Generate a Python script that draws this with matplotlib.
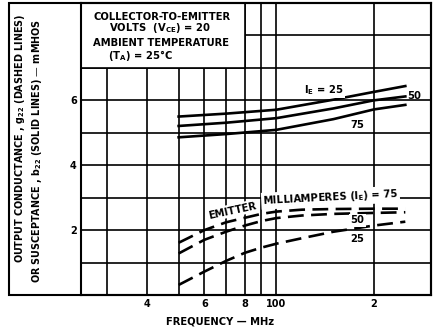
import numpy as np
import matplotlib
matplotlib.use("Agg")
import matplotlib.pyplot as plt
from matplotlib.patches import Rectangle

plt.rcParams['font.family'] = ['DejaVu Sans']
plt.rcParams['font.weight'] = 'bold'
plt.rcParams['mathtext.default'] = 'regular'

# frequency points (MHz)
freq_b = [50, 70, 100, 150, 200, 250]
freq_g = [50, 60, 70, 80, 90, 100, 120, 150, 200, 250]

# susceptance b22 (solid lines), mmhos
b22_ie25 = [5.50, 5.59, 5.71, 6.02, 6.26, 6.44]
b22_ie50 = [5.21, 5.31, 5.45, 5.75, 6.00, 6.12]
b22_ie75 = [4.86, 4.96, 5.09, 5.42, 5.72, 5.86]

# conductance g22 (dashed lines), mmhos
g22_ie75 = [1.61, 2.00, 2.24, 2.38, 2.50, 2.57, 2.63, 2.65, 2.66, 2.66]
g22_ie50 = [1.28, 1.70, 1.95, 2.14, 2.28, 2.37, 2.45, 2.50, 2.53, 2.55]
g22_ie25 = [0.31, 0.72, 1.05, 1.30, 1.46, 1.58, 1.75, 1.95, 2.14, 2.26]

xgrid = [30, 40, 50, 60, 70, 80, 90, 100, 200]
xlabels = ['', '4', '', '6', '', '8', '', '100', '2']
ygrid = [1, 2, 3, 4, 5, 6, 7, 8]
ylabels = ['', '2', '', '4', '', '6', '', '']

W, H = 434, 333
fig = plt.figure(figsize=(W / 100, H / 100), dpi=100)
ax = fig.add_axes([81 / W, 38 / H, 350 / W, 292 / H])

ax.set_xscale('log')
ax.set_xlim(25, 300)
ax.set_ylim(0, 9)
ax.set_xticks(xgrid)
ax.set_xticklabels(xlabels)
ax.xaxis.set_minor_locator(matplotlib.ticker.NullLocator())
ax.set_yticks(ygrid)
ax.set_yticklabels(ylabels)
ax.tick_params(length=0, labelsize=7, pad=3)
ax.grid(True, color='black', lw=1.2)
ax.set_axisbelow(True)
for s in ax.spines.values():
    s.set_linewidth(1.5)

# conditions box in upper-left corner
ax.add_patch(Rectangle((25, 7), 55, 2, facecolor='white', edgecolor='black',
                       lw=1.2, zorder=1.5))
box_lines = [("COLLECTOR-TO-EMITTER", 93, 19.8),
             ("VOLTS  (V$_{CE}$) = 20", 109, 31),
             ("AMBIENT TEMPERATURE", 93, 45.7),
             ("(T$_{A}$) = 25\u00b0C", 108, 59)]
for txt, px, py in box_lines:
    fig.text(px / W, 1 - py / H, txt, fontsize=7.2, ha='left', va='baseline')

# curves
lw = 1.9
for vals in (b22_ie25, b22_ie50, b22_ie75):
    ax.plot(freq_b, vals, color='black', lw=lw, zorder=2)
for vals in (g22_ie75, g22_ie50, g22_ie25):
    ax.plot(freq_g, vals, color='black', lw=lw, ls=(0, (6, 2.8)), zorder=2)

wb = dict(facecolor='white', edgecolor='none', pad=1)
ax.text(140, 6.32, "I$_E$ = 25", fontsize=7.2, ha='center', va='center', bbox=wb, zorder=3)
ax.text(253, 6.13, "50", fontsize=7.2, ha='left', va='center', zorder=3)
ax.text(178, 5.24, "75", fontsize=7.2, ha='center', va='center', bbox=wb, zorder=3)

ax.text(73, 2.6, "EMITTER", fontsize=7.2, ha='center', va='center', rotation=12,
        rotation_mode='anchor', bbox=wb, zorder=3)
ax.text(147, 3.0, "MILLIAMPERES (I$_E$) = 75", fontsize=7.2, ha='center', va='center',
        rotation=3, rotation_mode='anchor', bbox=wb, zorder=3)
ax.text(178, 2.30, "50", fontsize=7.2, ha='center', va='center', bbox=wb, zorder=3)
ax.text(178, 1.74, "25", fontsize=7.2, ha='center', va='center', bbox=wb, zorder=3)

# outer frame around axis title area
fig.add_artist(Rectangle((9 / W, 38 / H), 422 / W, 292 / H, transform=fig.transFigure,
                         fill=False, edgecolor='black', lw=1.5))

fig.text(20 / W, 1 - 138 / H, "OUTPUT CONDUCTANCE , g$_{22}$ (DASHED LINES)",
         rotation=90, fontsize=6.9, ha='center', va='center')
fig.text(37 / W, 1 - 151 / H, "OR SUSCEPTANCE , b$_{22}$ (SOLID LINES) \u2014 mMHOS",
         rotation=90, fontsize=6.9, ha='center', va='center')
fig.text(220 / W, 1 - 321 / H, "FREQUENCY \u2014 MHz", fontsize=7.2, ha='center', va='center')

fig.savefig("out.png", dpi=100)
